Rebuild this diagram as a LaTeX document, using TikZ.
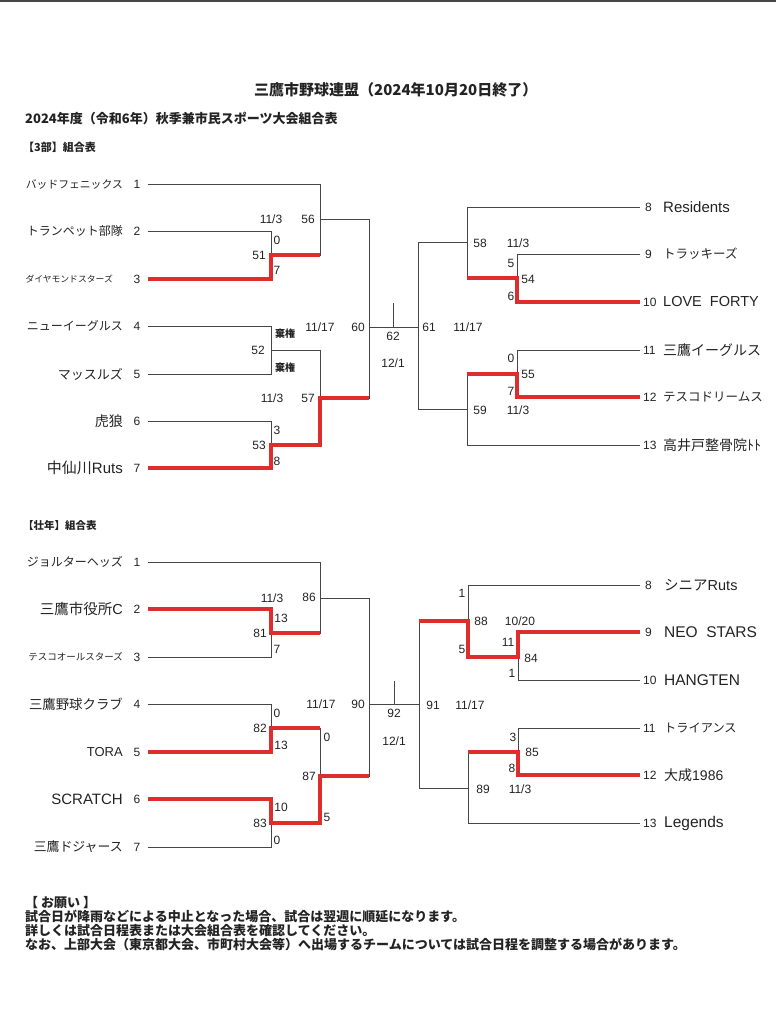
\documentclass[tikz,border=0pt]{standalone}
\usepackage{fontspec}
\setmainfont{Noto Sans CJK JP}
\newfontfamily\lat{Liberation Sans}
\usepackage{tikz}
\usetikzlibrary{positioning}
\definecolor{lineGray}{RGB}{70,70,70}
\definecolor{winRed}{RGB}{222,45,45}
\definecolor{inkGray}{RGB}{35,35,35}
\newcommand{\fsz}[1]{\fontsize{#1}{#1}\selectfont}

\begin{document}
\begin{tikzpicture}[x=1pt, y=-1pt,
        ln/.style={draw=lineGray, line width=0.9pt},
        win/.style={draw=winRed, line width=3.6pt},
        teamL/.style={anchor=east, inner sep=0pt, text=inkGray},
        teamR/.style={anchor=west, inner sep=0pt, text=inkGray},
        num/.style={inner sep=0pt, text=inkGray, font=\lat\fsz{12}},
        score/.style={inner sep=0pt, text=inkGray, font=\lat\fsz{12}},
        quit/.style={inner sep=0pt, text=inkGray, font=\bfseries\fsz{10}},
        head/.style={anchor=west, inner sep=0pt, text=inkGray}
    ]
        \useasboundingbox (0,0) rectangle (776,1024);
        \fill[lineGray] (0,0) rectangle (776,2);

        % Headings
        \node[head, font=\bfseries\fsz{15}] (title) at (254,90) {三鷹市野球連盟（2024年10月20日終了）};
        \node[head, font=\bfseries\fsz{13}] (sub) at (25,118) {2024年度（令和6年）秋季兼市民スポーツ大会組合表};
        \node[head, font=\bfseries\fsz{11}] (div3) at (23,147) {【3部】組合表};

        % 3部 teams, left
        \node[teamL, font=\fsz{10.8}] (p1) at (123,184) {バッドフェニックス};
        \node[teamL, font=\fsz{12}] (p2) at (123,231) {トランペット部隊};
        \node[teamL, font=\fsz{8.8}] (p3) at (113,279) {ダイヤモンドスターズ};
        \node[teamL, font=\fsz{12}] (p4) at (123,326) {ニューイーグルス};
        \node[teamL, font=\fsz{13}] (p5) at (123,374) {マッスルズ};
        \node[teamL, font=\fsz{14}] (p6) at (123,421) {虎狼};
        \node[teamL, font=\fsz{15}] (p7) at (123,468) {中仙川{\lat Ruts}};
        \node[num] (np1) at (137,184) {1};
        \node[num] (np2) at (137,231) {2};
        \node[num] (np3) at (137,279) {3};
        \node[num] (np4) at (137,326) {4};
        \node[num] (np5) at (137,374) {5};
        \node[num] (np6) at (137,421) {6};
        \node[num] (np7) at (137,468) {7};
        \coordinate (tp1) at (148,184);
        \coordinate (tp2) at (148,231);
        \coordinate (tp3) at (148,279);
        \coordinate (tp4) at (148,326);
        \coordinate (tp5) at (148,374);
        \coordinate (tp6) at (148,421);
        \coordinate (tp7) at (148,468);

        % 3部 teams, right
        \node[num, anchor=west] (np8) at (645,207) {8};
        \node[num, anchor=west] (np9) at (645,254) {9};
        \node[num, anchor=west] (np10) at (643,302) {10};
        \node[num, anchor=west] (np11) at (643,350) {11};
        \node[num, anchor=west] (np12) at (643,397) {12};
        \node[num, anchor=west] (np13) at (643,445) {13};
        \node[teamR, font=\lat\fsz{15}] (p8) at (663,207) {Residents};
        \node[teamR, font=\fsz{12.5}] (p9) at (663,254) {トラッキーズ};
        \node[teamR, font=\lat\fsz{14.5}] (p10) at (663,302) {LOVE\ \ FORTY};
        \node[teamR, font=\fsz{14}] (p11) at (663,350) {三鷹イーグルス};
        \node[teamR, font=\fsz{12.5}] (p12) at (663,397) {テスコドリームス};
        \node[teamR, font=\fsz{14}] (p13) at (663,445) {高井戸整骨院ﾄﾄ};
        \coordinate (tp8) at (640,207);
        \coordinate (tp9) at (640,254);
        \coordinate (tp10) at (640,302);
        \coordinate (tp11) at (640,350);
        \coordinate (tp12) at (640,397);
        \coordinate (tp13) at (640,445);

        % 3部 games
        \coordinate (m51) at (271,255);
        \coordinate (m52) at (271,350);
        \coordinate (m53) at (271,445);
        \coordinate (m56) at (320,219);
        \coordinate (m57) at (320,398);
        \coordinate (m60) at (369,327);
        \coordinate (m62) at (393,327);
        \coordinate (m62top) at (393,303);
        \coordinate (m61) at (418,327);
        \coordinate (m58) at (467,242);
        \coordinate (m59) at (467,409);
        \coordinate (m54) at (517,278);
        \coordinate (m55) at (517,374);

        \draw[ln] (tp1) -| (m56);
        \draw[ln] (tp2) -| (m51);
        \draw[ln] (tp3) -| (m51);
        \draw[ln] (m51) -| (m56);
        \draw[ln] (tp4) -| (m52);
        \draw[ln] (tp5) -| (m52);
        \draw[ln] (m52) -| (m57);
        \draw[ln] (tp6) -| (m53);
        \draw[ln] (tp7) -| (m53);
        \draw[ln] (m53) -| (m57);
        \draw[ln] (m56) -| (m60);
        \draw[ln] (m57) -| (m60);
        \draw[ln] (m60) -- (m61);
        \draw[ln] (m62) -- (m62top);
        \draw[ln] (tp8) -| (m58);
        \draw[ln] (tp9) -| (m54);
        \draw[ln] (tp10) -| (m54);
        \draw[ln] (m54) -| (m58);
        \draw[ln] (tp11) -| (m55);
        \draw[ln] (tp12) -| (m55);
        \draw[ln] (m55) -| (m59);
        \draw[ln] (tp13) -| (m59);
        \draw[ln] (m58) -| (m61);
        \draw[ln] (m59) -| (m61);

        \draw[win] (tp3) -| (m51) -- (m51 -| m56);
        \draw[win] (tp7) -| (m53) -| (m57) -- (m57 -| m60);
        \draw[win] (tp10) -| (m54) -- (m54 -| m58);
        \draw[win] (tp12) -| (m55) -- (m55 -| m59);

        % 3部 scores
        \node[score] (d51) at (271,219) {11/3};
        \node[score] (g56) at (308,219) {56};
        \node[score] (s51a) at (277,240) {0};
        \node[score] (g51) at (259,255) {51};
        \node[score] (s51b) at (277,270) {7};
        \node[quit] (s52a) at (285,334) {棄権};
        \node[score] (g52) at (258,350) {52};
        \node[quit] (s52b) at (285,368) {棄権};
        \node[score] (d60) at (320,327) {11/17};
        \node[score] (g60) at (358,327) {60};
        \node[score] (d53) at (272,398) {11/3};
        \node[score] (g57) at (308,398) {57};
        \node[score] (s53a) at (277,430) {3};
        \node[score] (g53) at (259,445) {53};
        \node[score] (s53b) at (277,461) {8};
        \node[score] (g62) at (393,336) {62};
        \node[score] (d62) at (393,363) {12/1};
        \node[score] (g61) at (429,327) {61};
        \node[score] (d61) at (468,327) {11/17};
        \node[score] (g58) at (480,243) {58};
        \node[score] (d54) at (518,243) {11/3};
        \node[score] (s54a) at (511,263) {5};
        \node[score] (g54) at (528,279) {54};
        \node[score] (s54b) at (511,296) {6};
        \node[score] (s55a) at (511,358) {0};
        \node[score] (g55) at (528,374) {55};
        \node[score] (s55b) at (511,391) {7};
        \node[score] (g59) at (480,410) {59};
        \node[score] (d55) at (518,410) {11/3};

        % 壮年
        \node[head, font=\bfseries\fsz{10.5}] (divs) at (23,525) {【壮年】組合表};

        \node[teamL, font=\fsz{12}] (q1) at (123,562) {ジョルターヘッズ};
        \node[teamL, font=\fsz{14.5}] (q2) at (123,609) {三鷹市役所{\lat C}};
        \node[teamL, font=\fsz{9.5}] (q3) at (123,657) {テスコオールスターズ};
        \node[teamL, font=\fsz{13.4}] (q4) at (123,704) {三鷹野球クラブ};
        \node[teamL, font=\lat\fsz{13}] (q5) at (123,752) {TORA};
        \node[teamL, font=\lat\fsz{15}] (q6) at (123,799) {SCRATCH};
        \node[teamL, font=\fsz{12.9}] (q7) at (123,847) {三鷹ドジャース};
        \node[num] (nq1) at (137,562) {1};
        \node[num] (nq2) at (137,609) {2};
        \node[num] (nq3) at (137,657) {3};
        \node[num] (nq4) at (137,704) {4};
        \node[num] (nq5) at (137,752) {5};
        \node[num] (nq6) at (137,799) {6};
        \node[num] (nq7) at (137,847) {7};
        \coordinate (tq1) at (148,562);
        \coordinate (tq2) at (148,609);
        \coordinate (tq3) at (148,657);
        \coordinate (tq4) at (148,704);
        \coordinate (tq5) at (148,752);
        \coordinate (tq6) at (148,799);
        \coordinate (tq7) at (148,847);

        \node[num, anchor=west] (nq8) at (645,585) {8};
        \node[num, anchor=west] (nq9) at (645,632) {9};
        \node[num, anchor=west] (nq10) at (643,680) {10};
        \node[num, anchor=west] (nq11) at (643,728) {11};
        \node[num, anchor=west] (nq12) at (643,775) {12};
        \node[num, anchor=west] (nq13) at (643,823) {13};
        \node[teamR, font=\fsz{14.5}] (q8) at (664,585) {シニア{\lat Ruts}};
        \node[teamR, font=\lat\fsz{15.5}] (q9) at (664,632) {NEO\ \ STARS};
        \node[teamR, font=\lat\fsz{15.5}] (q10) at (664,680) {HANGTEN};
        \node[teamR, font=\fsz{12.2}] (q11) at (664,728) {トライアンス};
        \node[teamR, font=\fsz{14}] (q12) at (664,775) {大成{\lat 1986}};
        \node[teamR, font=\lat\fsz{15.5}] (q13) at (664,823) {Legends};
        \coordinate (tq8) at (640,585);
        \coordinate (tq9) at (640,632);
        \coordinate (tq10) at (640,680);
        \coordinate (tq11) at (640,728);
        \coordinate (tq12) at (640,775);
        \coordinate (tq13) at (640,823);

        \coordinate (m81) at (271,633);
        \coordinate (m82) at (271,728);
        \coordinate (m83) at (271,823);
        \coordinate (m86) at (320,598);
        \coordinate (m87) at (320,776);
        \coordinate (m90) at (369,704);
        \coordinate (m92) at (394,704);
        \coordinate (m92top) at (394,681);
        \coordinate (m91) at (419,704);
        \coordinate (m88) at (468,621);
        \coordinate (m89) at (468,788);
        \coordinate (m84) at (518,657);
        \coordinate (m85) at (518,752);

        \draw[ln] (tq1) -| (m86);
        \draw[ln] (tq2) -| (m81);
        \draw[ln] (tq3) -| (m81);
        \draw[ln] (m81) -| (m86);
        \draw[ln] (tq4) -| (m82);
        \draw[ln] (tq5) -| (m82);
        \draw[ln] (m82) -| (m87);
        \draw[ln] (tq6) -| (m83);
        \draw[ln] (tq7) -| (m83);
        \draw[ln] (m83) -| (m87);
        \draw[ln] (m86) -| (m90);
        \draw[ln] (m87) -| (m90);
        \draw[ln] (m90) -- (m91);
        \draw[ln] (m92) -- (m92top);
        \draw[ln] (tq8) -| (m88);
        \draw[ln] (tq9) -| (m84);
        \draw[ln] (tq10) -| (m84);
        \draw[ln] (m84) -| (m88);
        \draw[ln] (tq11) -| (m85);
        \draw[ln] (tq12) -| (m85);
        \draw[ln] (m85) -| (m89);
        \draw[ln] (tq13) -| (m89);
        \draw[ln] (m88) -| (m91);
        \draw[ln] (m89) -| (m91);

        \draw[win] (tq2) -| (m81) -- (m81 -| m86);
        \draw[win] (tq5) -| (m82) -- (m82 -| m87);
        \draw[win] (tq6) -| (m83) -| (m87) -- (m87 -| m90);
        \draw[win] (tq9) -| (m84) -| (m88) -- (m88 -| m91);
        \draw[win] (tq12) -| (m85) -- (m85 -| m89);

        % 壮年 scores
        \node[score] (d81) at (272,598) {11/3};
        \node[score] (g86) at (309,597) {86};
        \node[score] (s81a) at (281,618) {13};
        \node[score] (g81) at (260,633) {81};
        \node[score] (s81b) at (277,649) {7};
        \node[score] (s82a) at (277,713) {0};
        \node[score] (g82) at (260,728) {82};
        \node[score] (s82b) at (281,745) {13};
        \node[score] (d90) at (321,704) {11/17};
        \node[score] (g90) at (358,704) {90};
        \node[score] (s87a) at (327,737) {0};
        \node[score] (g87) at (309,776) {87};
        \node[score] (s83a) at (281,807) {10};
        \node[score] (g83) at (260,823) {83};
        \node[score] (s87b) at (327,817) {5};
        \node[score] (s83b) at (277,840) {0};
        \node[score] (g92) at (394,713) {92};
        \node[score] (d92) at (394,741) {12/1};
        \node[score] (g91) at (433,705) {91};
        \node[score] (d91) at (470,705) {11/17};
        \node[score] (s88a) at (462,593) {1};
        \node[score] (g88) at (481,621) {88};
        \node[score] (d84) at (520,621) {10/20};
        \node[score] (s88b) at (462,649) {5};
        \node[score] (s84a) at (508,642) {11};
        \node[score] (g84) at (531,658) {84};
        \node[score] (s84b) at (512,673) {1};
        \node[score] (s85a) at (513,737) {3};
        \node[score] (g85) at (532,752) {85};
        \node[score] (s85b) at (512,768) {8};
        \node[score] (g89) at (483,789) {89};
        \node[score] (d85) at (520,789) {11/3};

        % Notes
        \node[anchor=north west, inner sep=0pt, align=left, text=inkGray,
              font=\bfseries\fontsize{13}{14}\selectfont] (note) at (25,896)
            {【 お願い 】\\
             試合日が降雨などによる中止となった場合、試合は翌週に順延になります。\\
             詳しくは試合日程表または大会組合表を確認してください。\\
             なお、上部大会（東京都大会、市町村大会等）へ出場するチームについては試合日程を調整する場合があります。};
    \end{tikzpicture}
\end{document}
